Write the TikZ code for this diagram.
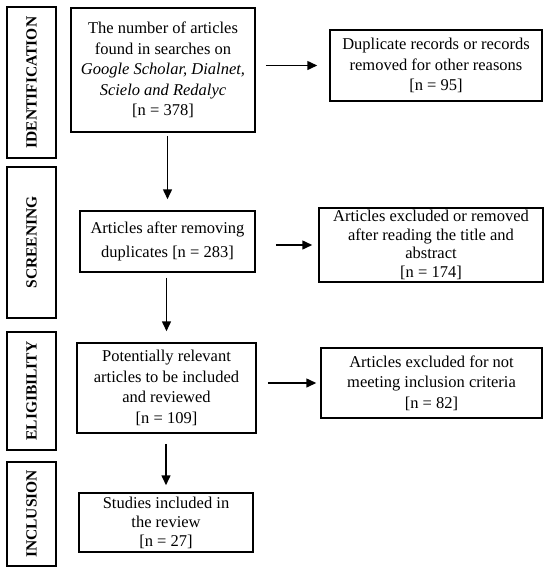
\documentclass[tikz,border=0pt]{standalone}
\usepackage{fontspec}
\setmainfont{Liberation Serif}
\usetikzlibrary{arrows.meta}

\begin{document}
\begin{tikzpicture}[x=1pt,y=-1pt,
	box/.style={draw, line width=1.5pt, align=center, inner sep=0pt, font=\fontsize{16.5}{20.5}\selectfont},
	side/.style={draw, line width=1.5pt, inner sep=0pt, rotate=90, minimum height=49, font=\bfseries\fontsize{15.5}{16}\selectfont},
	arr/.style={line width=1.5pt, -{Triangle[length=10pt,width=9pt]}}]

\useasboundingbox (0,0) rectangle (550,573);

\foreach \n/\c/\h/\t in {ident/82.5/151/IDENTIFICATION, screen/242.5/151/SCREENING, elig/391/118/ELIGIBILITY, incl/514/104/INCLUSION}{
	\node[side, minimum width=\h] (\n) at (31.5,\c) {\t};
}

\node[box, minimum width=184, minimum height=124] (found) at (163,70) {The number of articles\\ found in searches on\\ \textit{Google Scholar, Dialnet,}\\ \textit{Scielo and Redalyc}\\ {[n = 378]}};
\node[box, minimum width=212, minimum height=71] (dupl) at (436,65.5) {Duplicate records or records\\ removed for other reasons\\ {[n = 95]}};
\node[box, minimum width=175, minimum height=61, font=\fontsize{16.5}{24}\selectfont] (screened) at (167.5,241.5) {Articles after removing\\ duplicates [n = 283]};
\node[box, minimum width=224, minimum height=74, font=\fontsize{16.5}{18.5}\selectfont] (excl) at (431,245) {Articles excluded or removed\\ after reading the title and\\ abstract\\ {[n = 174]}};
\node[box, minimum width=179, minimum height=90] (relevant) at (166.5,388) {Potentially relevant\\ articles to be included\\ and reviewed\\ {[n = 109]}};
\node[box, minimum width=221, minimum height=70] (notmet) at (431.5,383) {Articles excluded for not\\ meeting inclusion criteria\\ {[n = 82]}};
\node[box, minimum width=174, minimum height=59, font=\fontsize{16.5}{19}\selectfont] (included) at (166,522.5) {Studies included in\\ the review\\ {[n = 27]}};

\draw[arr, shorten <=10pt, shorten >=12pt] (found.east |- dupl) -- (dupl);
\draw[arr, shorten <=20pt, shorten >=6pt] (screened.east |- excl) -- (excl);
\draw[arr, shorten <=11pt, shorten >=4pt] (relevant.east |- notmet) -- (notmet);

\draw[arr, shorten <=3pt, shorten >=11pt] (found.south -| screened) -- (screened);
\draw[arr, shorten <=5pt, shorten >=11pt] (screened.south -| relevant) -- (relevant);
\draw[arr, shorten <=10pt, shorten >=7pt] (relevant.south -| included) -- (included);

\end{tikzpicture}
\end{document}
